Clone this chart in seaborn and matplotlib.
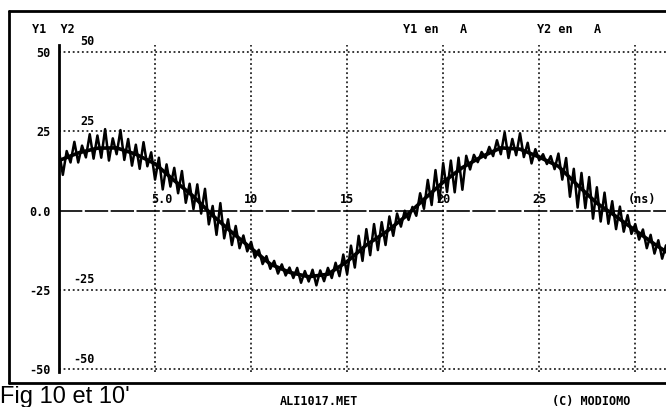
import numpy as np
import pandas as pd
import matplotlib
matplotlib.use("Agg")
import matplotlib.pyplot as plt
from matplotlib.lines import Line2D
import seaborn as sns

# 1. Data (time in ns, current in A) ------------------------------------
t_y2 = list(range(0, 33))
y2 = [15.8, 18.2, 19.7, 19.8, 17.8, 14.8, 9.5, 4.5, -1.5, -6.8,
      -11.8, -16.8, -19.4, -20.8, -20.0, -16.0, -10.8, -6.8, -2.0, 3.6,
      9.0, 13.6, 17.0, 19.8, 19.4, 16.9, 14.0, 8.0, 2.4, -1.8,
      -6.2, -10.5, -14.5]

# noisy trace sampled every 0.2 ns
t_y1 = np.arange(0, 32, 0.2)
y1 = [18.8, 11.3, 18.8, 15.2, 21.7,  15.2, 20.5, 16.8, 24.1, 16.4,
      23.7, 16.7, 25.7, 15.8, 22.8,  17.8, 25.4, 16.0, 22.6, 14.2,
      20.8, 13.2, 21.6, 14.0, 18.4,  9.8, 16.7, 6.7, 14.6, 7.6,
      13.5, 5.5, 12.5, 2.5, 8.5,  0.5, 8.3, -0.9, 6.9, -4.3,
      1.5, -7.6, 2.4, -8.7, -2.7,  -10.8, -4.8, -11.8, -7.8, -12.8,
      -9.8, -14.8, -12.3, -16.8, -14.3,  -18.3, -15.8, -19.8, -16.9, -20.4,
      -17.9, -21.2, -18.0, -22.7, -19.0,  -22.3, -18.6, -23.5, -18.8, -22.2,
      -18.0, -21.2, -16.4, -20.6, -13.8,  -20.0, -11.0, -17.9, -7.9, -15.8,
      -5.8, -14.0, -4.2, -12.4, -3.6,  -10.8, -1.8, -7.9, -0.9, -5.0,
      0.0, -2.9, 1.2, -1.6, 5.5,  0.6, 9.7, 1.8, 12.8, 2.9,
      15.0, 5.9, 15.8, 5.8, 16.7,  6.6, 17.3, 13.0, 17.6, 15.3,
      18.5, 16.6, 20.1, 17.2, 22.2,  17.8, 24.7, 16.6, 22.6, 17.5,
      24.4, 16.9, 21.4, 14.9, 19.4,  15.9, 17.8, 14.7, 17.2, 13.1,
      18.0, 9.8, 16.6, 4.4, 13.2,  1.0, 11.9, 0.8, 10.6, -2.5,
      7.4, -3.4, 5.7, -4.1, 3.0,  -5.8, 1.3, -6.6, -1.4, -7.3,
      -4.2, -9.1, -5.9, -11.8, -7.6,  -13.5, -9.3, -15.1, -10.9, -15.7]

y_ticks = [-50, -25, 0, 25, 50]
y_left_labels = ["-50", "-25", "0.0", "25", "50"]
y_inner_labels = ["-50", "-25", "", "25", "50"]
x_ticks = [5, 10, 15, 20, 25, 30]
x_labels = ["5.0", "10", "15", "20", "25", "(ns)"]

df1 = pd.DataFrame({"t": t_y1, "i": y1})
df2 = pd.DataFrame({"t": t_y2, "i": y2})

# 2. Figure ----------------------------------------------------------------
W, H = 666, 407
sns.set_style("white", {"axes.grid": False})
plt.rcParams["text.color"] = "black"
plt.rcParams["ytick.color"] = "black"
mono = {"family": "DejaVu Sans Mono", "weight": "bold", "size": 8.5,
        "color": "black"}

fig = plt.figure(figsize=(W / 100, H / 100), dpi=100)
ax = fig.add_axes([59 / W, 1 - 372 / H, 1 - 59 / W, (372 - 45) / H])

sns.lineplot(data=df1, x="t", y="i", ax=ax, color="black", lw=1.8)
sns.lineplot(data=df2, x="t", y="i", ax=ax, color="black", lw=2.6)

ax.set_xlim(0, 31.6)
ax.set_ylim(-50.8, 52.2)
ax.set_xlabel("")
ax.set_ylabel("")

# dotted grid
for yv in y_ticks:
    if yv != 0:
        ax.axhline(yv, color="black", lw=1.1, ls=(0, (1.2, 1.8)), zorder=0)
for xv in x_ticks:
    ax.axvline(xv, color="black", lw=1.1, ls=(0, (1.2, 1.8)), zorder=0)
ax.axhline(0, color="black", lw=1.2, ls=(0, (14, 1.5)), zorder=0)

for s in ["top", "right", "bottom"]:
    ax.spines[s].set_visible(False)
ax.spines["left"].set_linewidth(2)
ax.spines["left"].set_color("black")

ax.set_xticks([])
ax.set_yticks(y_ticks)
ax.set_yticklabels(y_left_labels, fontdict=mono)
ax.tick_params(axis="y", length=0, pad=6, labelcolor="black")

# Y2 labels inside the plot, x labels on the zero line
for yv, lab in zip(y_ticks, y_inner_labels):
    if lab:
        ax.text(0.75 if lab.startswith("-") else 1.1, yv + 1.2, lab,
                ha="left", va="bottom", fontdict=mono)
for xv, lab in zip(x_ticks, x_labels):
    xx = xv + 0.35 if lab in ("5.0", "(ns)") else xv
    ax.text(xx, 1.5, lab, ha="center", va="bottom", fontdict=mono)

# header / footer
fig.text(32 / W, 1 - 33 / H, "Y1  Y2", ha="left", va="baseline", fontdict=mono)
fig.text(403 / W, 1 - 33 / H, "Y1 en   A", ha="left", va="baseline", fontdict=mono)
fig.text(537 / W, 1 - 33 / H, "Y2 en   A", ha="left", va="baseline", fontdict=mono)
fig.text(0, 4 / H, "Fig 10 et 10'", ha="left", va="baseline",
         family="Liberation Sans", size=17, color="black")
fig.text(280 / W, 1 - 395 / H, "ALI1017.MET", ha="left", va="top", fontdict=mono)
fig.text(552 / W, 1 - 395 / H, "(C) MODIOMO", ha="left", va="top", fontdict=mono)

# outer frame of the screen dump
for xs, ys in [([9, 9], [11, 383]), ([9, W], [11, 11]), ([9, W], [383, 383])]:
    fig.add_artist(Line2D([x / W for x in xs], [1 - y / H for y in ys],
                          color="black", lw=2))

fig.savefig("out.png", dpi=100)
